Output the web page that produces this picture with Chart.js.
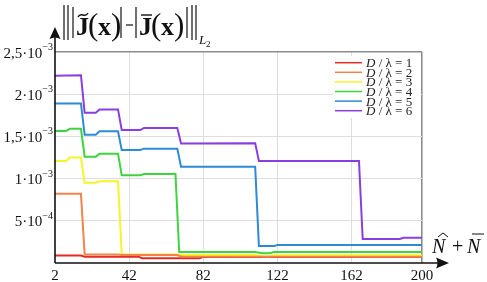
<!DOCTYPE html>
<html><head><meta charset="utf-8">
<script src="https://cdn.jsdelivr.net/npm/chart.js@4"></script>
<style>html,body{margin:0;padding:0;background:#fff;}canvas{display:block;}</style>
</head><body>
<canvas id="c" width="487" height="282"></canvas>
<script>
// ---- data (y in units of 10^-3) ----
const seriesLabels = ['1', '2', '3', '4', '5', '6'];   // D / λ
const seriesColors = ['#e42a22', '#f0844a', '#f4f42a', '#3fd43f', '#2f8ad6', '#8a3ee0'];

const redN    = [2, 16, 18, 47, 49, 80, 82, 200];
const redV    = [0.088, 0.088, 0.075, 0.075, 0.057, 0.057, 0.072, 0.072];
const orangeN = [2, 16, 18, 36, 38, 68, 70, 200];
const orangeV = [0.82, 0.82, 0.10, 0.10, 0.095, 0.095, 0.078, 0.075];
const yellowN = [2, 8, 10, 16, 18, 24, 26, 36, 38, 68, 70, 110, 114, 118, 120, 200];
const yellowV = [1.21, 1.21, 1.25, 1.25, 0.95, 0.95, 0.97, 0.97, 0.10, 0.10, 0.095, 0.095, 0.08, 0.08, 0.092, 0.092];
const greenN  = [2, 8, 10, 16, 18, 24, 26, 36, 38, 48, 50, 67, 69, 110, 114, 118, 120, 200];
const greenV  = [1.565, 1.565, 1.59, 1.59, 1.26, 1.26, 1.295, 1.295, 1.04, 1.04, 1.055, 1.055, 0.13, 0.13, 0.115, 0.115, 0.13, 0.13];
const blueN   = [2, 16, 18, 24, 26, 36, 38, 48, 50, 68, 70, 110, 112, 120, 122, 200];
const blueV   = [1.89, 1.89, 1.52, 1.52, 1.56, 1.56, 1.34, 1.34, 1.355, 1.355, 1.14, 1.14, 0.20, 0.20, 0.213, 0.213];
const purpleN = [2, 16, 18, 24, 26, 36, 38, 48, 50, 68, 70, 110, 112, 166, 168, 188, 190, 200];
const purpleV = [2.22, 2.225, 1.78, 1.78, 1.82, 1.82, 1.575, 1.575, 1.60, 1.60, 1.415, 1.42, 1.21, 1.21, 0.285, 0.285, 0.30, 0.30];

const xTickValues = [2, 42, 82, 122, 162, 200];
const xGridValues = [42, 82, 122, 162, 200];
const yTickValues = [0.5, 1, 1.5, 2, 2.5];
const yTickMantissa = ['5', '1', '1,5', '2', '2,5'];
const yTickExponent = ['\u22124', '\u22123', '\u22123', '\u22123', '\u22123'];

const seriesN = [redN, orangeN, yellowN, greenN, blueN, purpleN];
const seriesV = [redV, orangeV, yellowV, greenV, blueV, purpleV];

const SERIF = '"Liberation Serif", "Times New Roman", serif';

const decor = {
  id: 'decor',
  afterDraw(chart) {
    const ctx = chart.ctx;
    const xs = chart.scales.x, ys = chart.scales.y;
    const L = chart.chartArea.left, B = chart.chartArea.bottom;
    ctx.save();
    ctx.fillStyle = '#111'; ctx.strokeStyle = '#111';

    // axes with arrows
    ctx.lineWidth = 1.6;
    ctx.beginPath(); ctx.moveTo(L, B); ctx.lineTo(L, 36); ctx.stroke();
    ctx.beginPath(); ctx.moveTo(L, B); ctx.lineTo(438, B); ctx.stroke();
    ctx.beginPath(); ctx.moveTo(L, 27); ctx.lineTo(L - 5.5, 39); ctx.quadraticCurveTo(L, 36, L + 5.5, 39); ctx.closePath(); ctx.fill();
    ctx.beginPath(); ctx.moveTo(449, B); ctx.lineTo(436, B - 5.5); ctx.quadraticCurveTo(439, B, 436, B + 5.5); ctx.closePath(); ctx.fill();

    // y tick labels
    yTickValues.forEach((v, i) => {
      const y = ys.getPixelForValue(v);
      ctx.font = '15px ' + SERIF;
      const main = yTickMantissa[i] + '\u00B710';
      ctx.font = '10px ' + SERIF;
      const ew = ctx.measureText(yTickExponent[i]).width;
      ctx.font = '15px ' + SERIF;
      const mw = ctx.measureText(main).width;
      const right = 53;
      ctx.textAlign = 'left'; ctx.textBaseline = 'alphabetic';
      ctx.fillText(main, right - ew - mw, y + 5.5);
      ctx.font = '10px ' + SERIF;
      ctx.fillText(yTickExponent[i], right - ew, y - 2);
    });

    // x tick labels
    ctx.font = '15px ' + SERIF;
    ctx.textAlign = 'center'; ctx.textBaseline = 'alphabetic';
    xTickValues.forEach(v => {
      ctx.fillText(String(v), xs.getPixelForValue(v), 280);
    });

    // x axis title  N^ + N-
    ctx.textAlign = 'left';
    ctx.font = 'italic 20px ' + SERIF;
    ctx.fillText('N', 432, 253);
    ctx.font = '20px ' + SERIF;
    ctx.fillText('+', 452, 253);
    ctx.font = 'italic 20px ' + SERIF;
    ctx.fillText('N', 467, 253);
    ctx.lineWidth = 1;
    ctx.beginPath(); ctx.moveTo(438, 237); ctx.lineTo(443, 233); ctx.lineTo(448, 237); ctx.stroke();
    ctx.beginPath(); ctx.moveTo(472, 234); ctx.lineTo(484, 234); ctx.stroke();

    // title ||J~(x)| - |J-(x)||_L2
    ctx.lineWidth = 1.2;
    const vbar = (x, y1, y2) => { ctx.beginPath(); ctx.moveTo(x, y1); ctx.lineTo(x, y2); ctx.stroke(); };
    vbar(64, 5, 40); vbar(68, 5, 40);
    vbar(73, 7, 38);
    ctx.font = 'bold 26px ' + SERIF;
    ctx.fillText('J', 76, 35);
    ctx.lineWidth = 1.4;
    ctx.beginPath(); ctx.moveTo(78, 17); ctx.bezierCurveTo(81, 11, 85, 19, 88, 13); ctx.stroke();
    ctx.font = '31px ' + SERIF; ctx.fillText('(', 88, 35);
    ctx.font = 'bold 26px ' + SERIF; ctx.fillText('x', 98, 35);
    ctx.font = '31px ' + SERIF; ctx.fillText(')', 111, 35);
    ctx.lineWidth = 1.2;
    vbar(121, 7, 38);
    ctx.beginPath(); ctx.moveTo(126, 25); ctx.lineTo(133, 25); ctx.stroke();
    vbar(136, 7, 38);
    ctx.font = 'bold 26px ' + SERIF; ctx.fillText('J', 139, 35);
    ctx.lineWidth = 1.4;
    ctx.beginPath(); ctx.moveTo(141, 15); ctx.lineTo(152, 15); ctx.stroke();
    ctx.font = '31px ' + SERIF; ctx.fillText('(', 151, 35);
    ctx.font = 'bold 26px ' + SERIF; ctx.fillText('x', 161, 35);
    ctx.font = '31px ' + SERIF; ctx.fillText(')', 174, 35);
    ctx.lineWidth = 1.2;
    vbar(187, 7, 38);
    vbar(192, 5, 40); vbar(196, 5, 40);
    ctx.font = 'italic 13px ' + SERIF; ctx.fillText('L', 199, 44);
    ctx.font = '9px ' + SERIF; ctx.fillText('2', 206, 47);

    // legend
    ctx.fillStyle = '#fff';
    ctx.fillRect(333, 56, 88, 62);
    chart.data.datasets.forEach((ds, i) => {
      const y = 62.7 + i * 9.6;
      ctx.strokeStyle = ds.borderColor; ctx.lineWidth = 1.5;
      ctx.beginPath(); ctx.moveTo(335, y); ctx.lineTo(362, y); ctx.stroke();
      ctx.fillStyle = '#222';
      ctx.textBaseline = 'middle';
      ctx.font = 'italic 13px ' + SERIF;
      ctx.fillText('D', 366, y + 1);
      const dw = ctx.measureText('D').width;
      ctx.font = '13px ' + SERIF;
      ctx.fillText(' / \u03BB = ' + seriesLabels[i], 366 + dw, y + 1);
    });
    ctx.restore();
  }
};

new Chart(document.getElementById('c'), {
  type: 'line',
  data: {
    datasets: seriesLabels.map((lab, i) => ({
      label: 'D / \u03BB = ' + lab,
      data: seriesN[i].map((n, k) => ({ x: n, y: seriesV[i][k] })),
      borderColor: seriesColors[i],
      backgroundColor: seriesColors[i],
      borderWidth: 2,
      pointRadius: 0,
      tension: 0,
      fill: false,
      order: i === 0 ? 2 : 1
    }))
  },
  options: {
    responsive: false,
    animation: false,
    devicePixelRatio: 1,
    layout: { padding: { left: 55, right: 65, top: 52, bottom: 19 } },
    plugins: { legend: { display: false }, tooltip: { enabled: false } },
    scales: {
      x: {
        type: 'linear', min: 2, max: 200,
        afterBuildTicks: s => { s.ticks = xGridValues.map(v => ({ value: v })); },
        ticks: { display: false },
        border: { display: false },
        grid: {
          drawTicks: false,
          color: c => (c.tick && c.tick.value === 200) ? '#8c8c8c' : '#dedede',
          lineWidth: c => (c.tick && c.tick.value === 200) ? 1.6 : 1
        }
      },
      y: {
        type: 'linear', min: 0, max: 2.5,
        afterBuildTicks: s => { s.ticks = yTickValues.map(v => ({ value: v })); },
        ticks: { display: false },
        border: { display: false },
        grid: {
          drawTicks: false,
          color: c => (c.tick && c.tick.value === 2.5) ? '#8c8c8c' : '#dedede',
          lineWidth: c => (c.tick && c.tick.value === 2.5) ? 1.6 : 1
        }
      }
    }
  },
  plugins: [decor]
});
</script>
</body></html>
